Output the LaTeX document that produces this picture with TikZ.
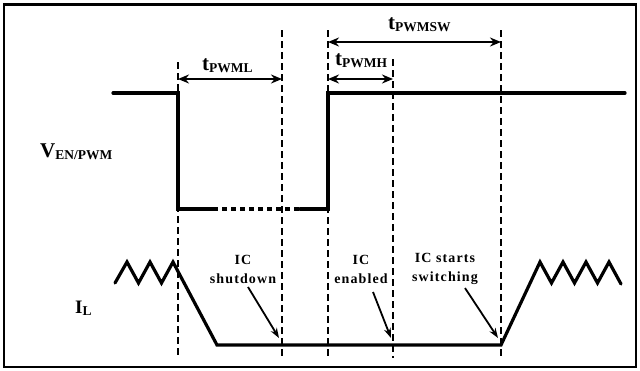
\documentclass[tikz,border=0pt]{standalone}
\usepackage{fontspec}
\setmainfont{Liberation Serif}
\newfontfamily\lblfont[LetterSpace=8]{Liberation Serif}
\usetikzlibrary{arrows.meta}
\newcommand\biglbl[2]{{\fontsize{21bp}{22bp}\selectfont #1}{\fontsize{13.5bp}{14bp}\selectfont\raisebox{-2.5bp}{#2}}}
\begin{document}
\begin{tikzpicture}[x=1bp,y=-1bp,
  wave/.style={line width=3.2bp, line join=miter, line cap=round},
  guide/.style={line width=1.8bp, dash pattern=on 7bp off 4bp},
  dim/.style={line width=2bp, {Stealth[length=11bp,width=9bp]}-{Stealth[length=11bp,width=9bp]}},
  note/.style={line width=1.8bp, -{Stealth[length=10bp,width=7bp]}},
  lbl/.style={font=\lblfont\fontsize{14bp}{19bp}\selectfont\bfseries, align=center, inner sep=0pt},
  big/.style={font=\bfseries, inner sep=0pt, anchor=base west}]
\useasboundingbox (0,0) rectangle (640,370);
\draw[line width=2.2bp] (4,4.5) rectangle (636,367);

% guide lines
\foreach \n/\x/\t in {1/178/62, 2/282/30, 3/328/30, 4/393/59, 5/501/30}{
  \coordinate (g\n t) at (\x,\t);
  \coordinate (g\n b) at (\x,358);
  \draw[guide] (g\n t) -- (g\n b);
}

% V_EN/PWM waveform
\coordinate (v0) at (113,93);
\coordinate (v1) at (178,93);
\coordinate (v2) at (178,209);
\coordinate (v3) at (213,209);
\coordinate (v4) at (300,209);
\coordinate (v5) at (328,209);
\coordinate (v6) at (328,93);
\coordinate (v7) at (625,93);
\draw[wave] (v0) -- (v1) -- (v2) -- (v3);
\draw[line width=3.2bp, dash pattern=on 5bp off 4bp] (v3) -- (v4);
\draw[wave] (v4) -- (v5) -- (v6) -- (v7);

% dimension arrows
\coordinate (a1) at (178,79);
\coordinate (a2) at (282,79);
\coordinate (a3) at (328,79);
\coordinate (a4) at (393,79);
\coordinate (a5) at (328,42);
\coordinate (a6) at (501,42);
\draw[dim] (a1) -- (a2);
\draw[dim] (a3) -- (a4);
\draw[dim] (a5) -- (a6);

\node[big] (tl) at (202,70) {\biglbl{t}{PWML}};
\node[big] (th) at (335,65) {\biglbl{t}{PWMH}};
\node[big] (tsw) at (388,29) {\biglbl{t}{PWMSW}};
\node[big] (ven) at (40,157) {\biglbl{V}{EN/PWM}};
\node[big] (il) at (75,313) {{\fontsize{19bp}{20bp}\selectfont I}{\fontsize{13.5bp}{14bp}\selectfont\raisebox{-2.5bp}{L}}};

% I_L waveform
\draw[wave] (115,283) -- (127,262) -- (138.5,283) -- (150,262) -- (161.5,283) -- (173,262)
  -- (217,345) -- (501,345) -- (540,262) -- (551.5,283) -- (563,262) -- (574.5,283)
  -- (586,262) -- (597.5,283) -- (609,262) -- (621,284);

% annotations
\node[lbl] (sd) at (243,269) {IC\\shutdown};
\node[lbl] (en) at (361,269) {IC\\enabled};
\node[lbl] (sw) at (445,269) {IC starts\\switching};
\coordinate (sdh) at (279,338);
\coordinate (enh) at (391,338);
\coordinate (swh) at (498,338);
\draw[note] (248,287) -- (sdh);
\draw[note] (373,292) -- (enh);
\draw[note] (465,288) -- (swh);
\end{tikzpicture}
\end{document}
